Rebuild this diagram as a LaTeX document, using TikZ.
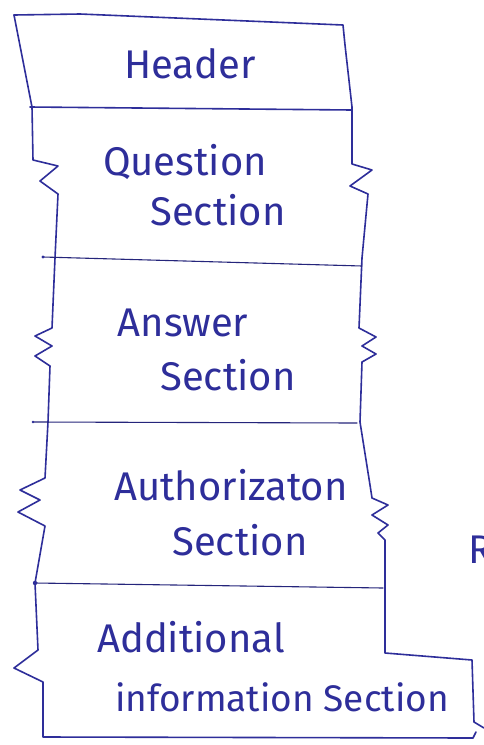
\documentclass[tikz,border=0pt]{standalone}
\usepackage{fontspec}
\setmainfont{Fira Sans}
\definecolor{ink}{HTML}{2E2E9A}
\begin{document}
\begin{tikzpicture}[x=1pt,y=-1pt,
  pen/.style={draw=ink,line width=1.6pt,line join=round,line cap=round},
  thin pen/.style={draw=ink!80!black,line width=1.1pt,line cap=round},
  lbl/.style={text=ink,font=\fontsize{40}{44}\selectfont,inner sep=0pt}]
\useasboundingbox[fill=white] (0,0) rectangle (484,745);
% outer outline
\draw[pen] (14,15) -- (80,14) -- (343,25) -- (345,45) -- (352,107)
  -- (352,164) -- (372,170) -- (350,186) -- (368,194) -- (362,258)
  -- (359,328) -- (376,337) -- (362,346) -- (376,354) -- (362,362) -- (360,422)
  -- (370,485) -- (372,498) -- (388,505) -- (372,515) -- (388,525) -- (378,533) -- (385,540)
  -- (385,653) -- (472,660) -- (474,722) -- (484,728);
\draw[pen] (476,732) -- (473,738) -- (43,737) -- (43,682) -- (14,668) -- (38,650)
  -- (35,583) -- (45,526) -- (18,512) -- (40,500) -- (20,490) -- (45,478)
  -- (48,422) -- (50,366) -- (35,356) -- (52,346) -- (35,336) -- (52,328)
  -- (55,258) -- (58,194) -- (40,181) -- (58,166) -- (33,160) -- (32,107) -- (14,15);
% dividers
\draw[pen] (30,107) -- (352,110);
\draw[thin pen] (43,257) -- (362,266);
\draw[thin pen] (33,422) -- (357,423);
\draw[thin pen] (35,583) -- (383,588);
\fill[ink] (43,257) circle (1.6pt) (33,422) circle (1.4pt) (35,583) circle (2.2pt);
% labels
\node[lbl] (hdr) at (190,64) {Header};
\node[lbl] (q1) at (185,162) {Question};
\node[lbl] (q2) at (218,210) {Section};
\node[lbl] (a1) at (183,323) {Answer};
\node[lbl] (a2) at (228,375) {Section};
\node[lbl] (u1) at (231,485) {Authorizaton};
\node[lbl] (u2) at (240,540) {Section};
\node[lbl] (d1) at (191,637) {Additional};
\node[lbl,font=\fontsize{37}{40}\selectfont] (d2) at (282,697) {information Section};
\node[lbl,anchor=west] (rr) at (468,550) {R};
\end{tikzpicture}
\end{document}
